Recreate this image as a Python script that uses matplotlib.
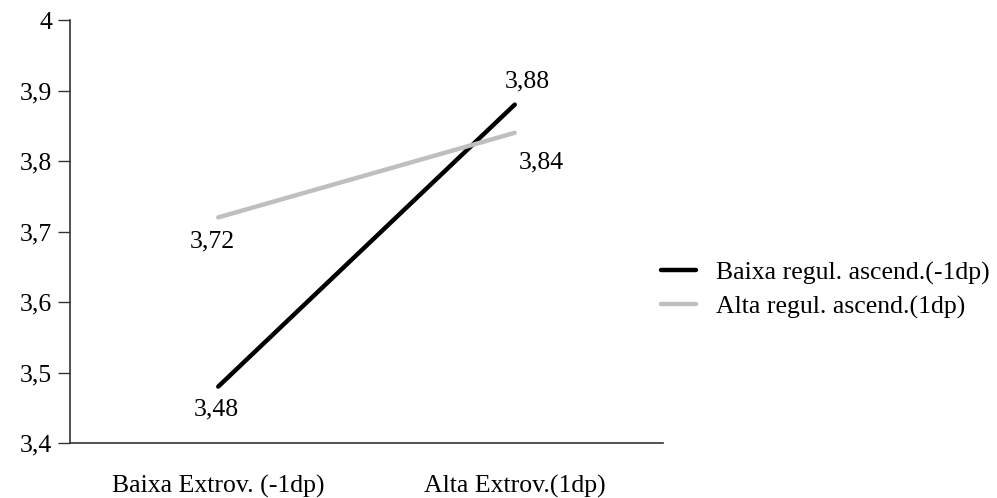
import matplotlib
matplotlib.use("Agg")
import matplotlib.pyplot as plt
from matplotlib.ticker import FuncFormatter

categories = ["Baixa Extrov. (-1dp)", "Alta Extrov.(1dp)"]
series_names = ["Baixa regul. ascend.(-1dp)", "Alta regul. ascend.(1dp)"]
low_reg = [3.48, 3.88]
high_reg = [3.72, 3.84]
yticks = [3.4, 3.5, 3.6, 3.7, 3.8, 3.9, 4.0]

plt.rcParams['font.family'] = ['Liberation Serif', 'DejaVu Serif']
FS = 18.5

fig = plt.figure(figsize=(9.97, 4.98), dpi=100)
ax = fig.add_axes([70/997, 1 - 443/498, (663-70)/997, (443-20)/498])

x = list(range(len(categories)))
l1, = ax.plot(x, low_reg, color="black", lw=3.2, solid_capstyle="round", label=series_names[0])
l2, = ax.plot(x, high_reg, color="#bfbfbf", lw=3.2, solid_capstyle="round", label=series_names[1])

def fmt(v):
    return f"{v:.2f}".replace(".", ",")

def lab(xv, yv, dx, dy):
    ax.annotate(fmt(yv), (xv, yv), xytext=(dx, dy), textcoords="offset pixels",
                ha="center", va="center", fontsize=FS)

lab(x[0], low_reg[0], -2, -23)
lab(x[1], low_reg[1], 13, 23)
lab(x[0], high_reg[0], -6, -24)
lab(x[1], high_reg[1], 27, -30)

ax.set_xlim(-0.5, 1.5)
ax.set_ylim(3.4, 4.0)
ax.set_yticks(yticks)
ax.yaxis.set_major_formatter(FuncFormatter(lambda v, p: ("%g" % round(v, 1)).replace(".", ",")))
ax.set_xticks(x)
ax.set_xticklabels(categories)
ax.tick_params(axis="y", length=8.6, width=1, labelsize=FS, pad=4.3, color="#333333")
ax.tick_params(axis="x", length=0, labelsize=FS, pad=23)

for s in ["top", "right"]:
    ax.spines[s].set_visible(False)
for s in ["left", "bottom"]:
    ax.spines[s].set_linewidth(1.2)
    ax.spines[s].set_color("#333333")

leg = ax.legend(handles=[l1, l2], loc="center left", bbox_to_anchor=(661/997, 1 - 290/498),
                bbox_transform=fig.transFigure, frameon=False, fontsize=FS,
                handlelength=1.35, handletextpad=0.8, labelspacing=0.4, borderpad=0.0,
                borderaxespad=0.0)

fig.savefig("out.png", dpi=100)
